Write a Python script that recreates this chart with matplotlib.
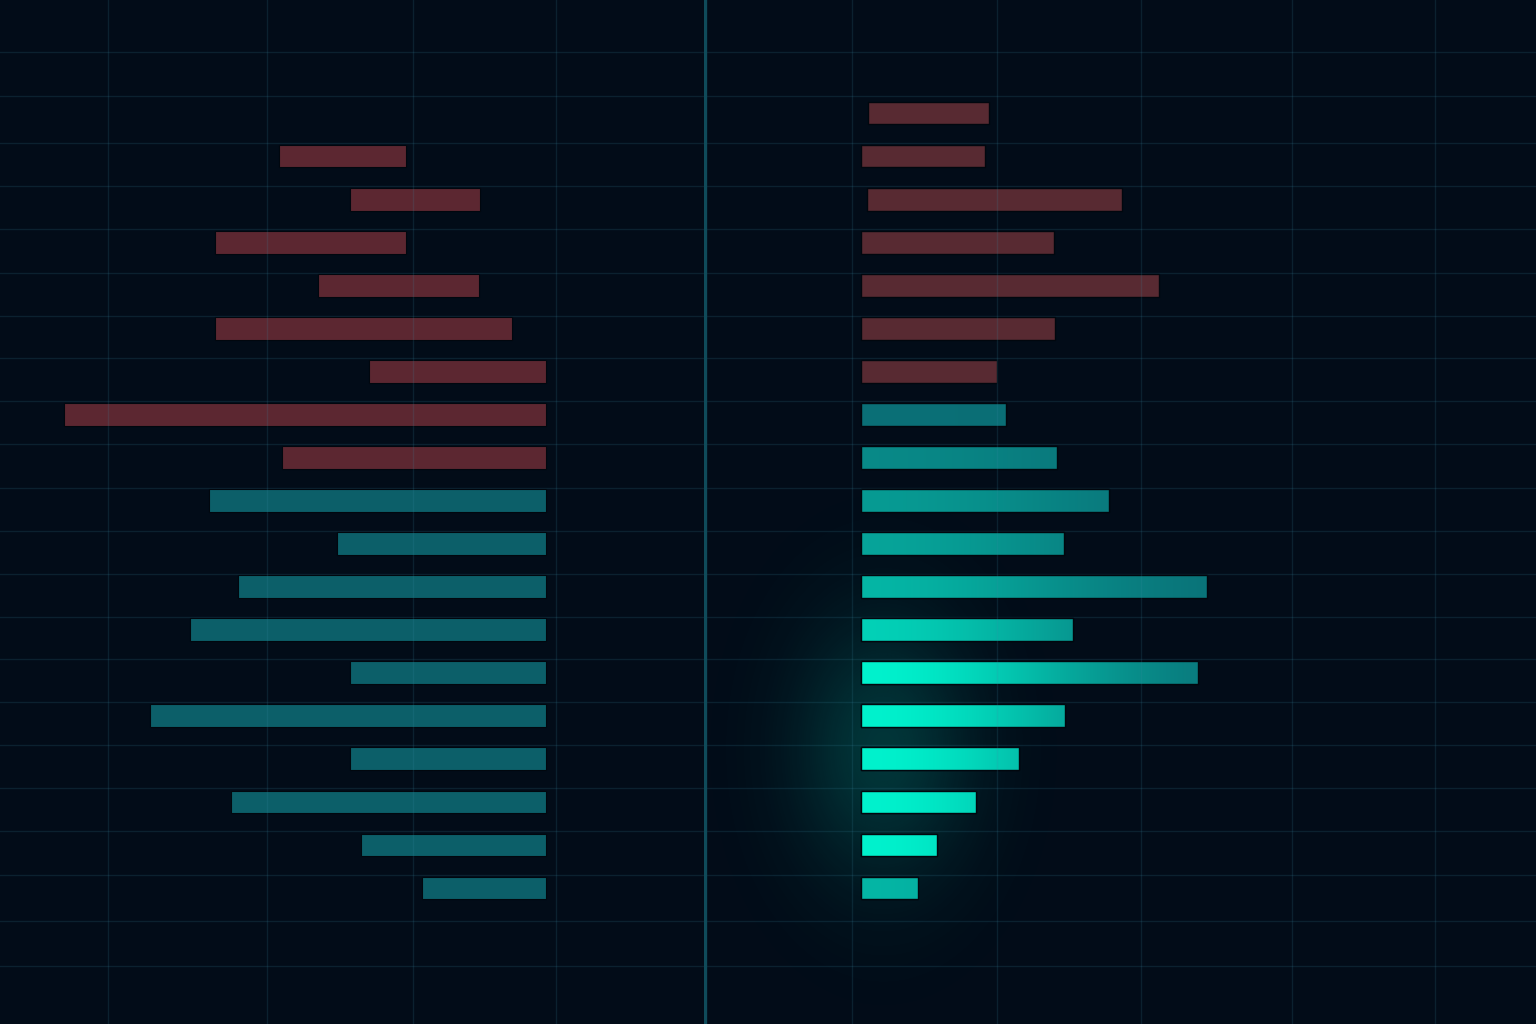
import numpy as np
import matplotlib
matplotlib.use("Agg")
import matplotlib.pyplot as plt
from matplotlib.colors import to_rgb

# ---------------- data ----------------
rows_left = list(range(1, 19))
left_outer = [1.83, 1.34, 2.27, 1.56, 2.27, 1.21, 3.30, 1.81,
              2.31, 1.43, 2.11, 2.44, 1.34, 2.71, 1.34, 2.16, 1.27, 0.85]
left_inner = [0.96, 0.45, 0.96, 0.46, 0.23, 0.00, 0.00, 0.00,
              0.00, 0.00, 0.00, 0.00, 0.00, 0.00, 0.00, 0.00, 0.00, 0.00]
left_group = ["red"] * 8 + ["teal"] * 10

rows_right = list(range(0, 19))
right_start = [0.05, 0.00, 0.04, 0.00, 0.00, 0.00, 0.00, 0.00, 0.00, 0.00,
               0.00, 0.00, 0.00, 0.00, 0.00, 0.00, 0.00, 0.00, 0.00]
right_end = [0.88, 0.85, 1.79, 1.32, 2.04, 1.33, 0.93, 0.99, 1.34, 1.70,
             1.39, 2.37, 1.45, 2.31, 1.40, 1.08, 0.79, 0.52, 0.39]
right_group = ["red"] * 7 + ["teal"] * 12
right_glow = [0, 0, 0, 0, 0, 0, 0,
              0.03, 0.22, 0.35, 0.42, 0.55, 0.75, 1.0, 1.0, 1.0, 1.0, 1.0, 0.55]

# ---------------- style ----------------
BG = "#020c18"
RED = "#5c2731"
RED_R = "#582a32"
TEAL_L = "#0c5f69"
TEAL_BASE = np.array(to_rgb("#0b6670"))
TEAL_BRIGHT = np.array(to_rgb("#00f2cd"))
GRID = "#3a8aa5"
BAR_H = 0.53

W, H = 1536, 1024
fig = plt.figure(figsize=(W / 100, H / 100), dpi=100, facecolor=BG)

split = 704
axL = fig.add_axes([0, 0, split / W, 1])
axR = fig.add_axes([split / W, 0, (W - split) / W, 1])

unit = 146.0
row_px0, row_step = 113.0, 43.06
ylim = ((H - row_px0) / row_step, -row_px0 / row_step)
xlimL = (546 / unit, -(split - 546) / unit)
xlimR = (-(861 - split) / unit, (W - 861) / unit)

hgrid = [-1.42, -0.40, 0.70, 1.70, 2.70, 3.71, 4.71, 5.70, 6.68, 7.68, 8.70,
         9.70, 10.70, 11.70, 12.67, 13.67, 14.67, 15.67, 16.67, 17.70, 18.77, 19.80]
vgridL = [3.00, 1.91, 0.91, -0.07]
vgridR = [-0.06, 0.93, 1.92, 2.95, 3.93]

for ax, vg in ((axL, vgridL), (axR, vgridR)):
    ax.set_facecolor(BG)
    for s in ax.spines.values():
        s.set_visible(False)
    ax.set_xticks([])
    ax.set_yticks([])
    for v in vg:
        ax.axvline(v, color=GRID, alpha=0.17, lw=1.0, zorder=5)
    for h in hgrid:
        ax.axhline(h, color=GRID, alpha=0.17, lw=1.0, zorder=1)

# ---------------- left panel ----------------
widths = [o - i for o, i in zip(left_outer, left_inner)]
colsL = [RED if g == "red" else TEAL_L for g in left_group]
axL.barh(rows_left, widths, left=left_inner, height=BAR_H, color=colsL,
         edgecolor="#01070e", linewidth=0.8, zorder=3)
axL.set_xlim(*xlimL)
axL.set_ylim(*ylim)

# ---------------- right panel ----------------
# background glow
gx = np.linspace(xlimR[0], xlimR[1], 400)
gy = np.linspace(ylim[1], ylim[0], 400)
GX, GY = np.meshgrid(gx, gy)
glow = np.exp(-((GX - 0.15) / 0.6) ** 2 - ((GY - 14.8) / 3.0) ** 2)
rgba = np.zeros(GX.shape + (4,))
rgba[..., :3] = to_rgb("#00e0c0")
rgba[..., 3] = 0.2 * glow
axR.imshow(rgba, extent=(xlimR[0], xlimR[1], ylim[1], ylim[0]),
           origin="lower", aspect="auto", interpolation="bilinear", zorder=0.5)

wR = [e - s for s, e in zip(right_start, right_end)]
colsR = [RED_R if g == "red" else "none" for g in right_group]
bars = axR.barh(rows_right, wR, left=right_start, height=BAR_H, color=colsR,
                edgecolor="#01070e", linewidth=1.0, zorder=3)

xs = np.linspace(0, 1, 200)
for bar, g, k in zip(bars, right_group, right_glow):
    if g != "teal":
        continue
    x0, y0 = bar.get_x(), bar.get_y()
    w, h = bar.get_width(), bar.get_height()
    xv = x0 + xs * w
    inten = k * np.exp(-(xv / 1.6) ** 2)
    inten = 0.04 + 0.96 * inten
    col = TEAL_BASE[None, :] * (1 - inten[:, None]) + TEAL_BRIGHT[None, :] * inten[:, None]
    img = col[None, :, :]
    im = axR.imshow(img, extent=(x0, x0 + w, y0 + h, y0), origin="upper",
                    aspect="auto", interpolation="bilinear", zorder=3.5)
    im.set_clip_path(bar)
    axR.add_patch(plt.Rectangle((x0, y0), w, h, fill=False,
                                edgecolor="#01070e", lw=1.0, zorder=4))

axR.set_xlim(*xlimR)
axR.set_ylim(*ylim)

# divider line
axR.axvline(xlimR[0] + 0.008, color="#0f4b5a", lw=2.4, zorder=6)

fig.savefig("out.png", dpi=100, facecolor=BG)
